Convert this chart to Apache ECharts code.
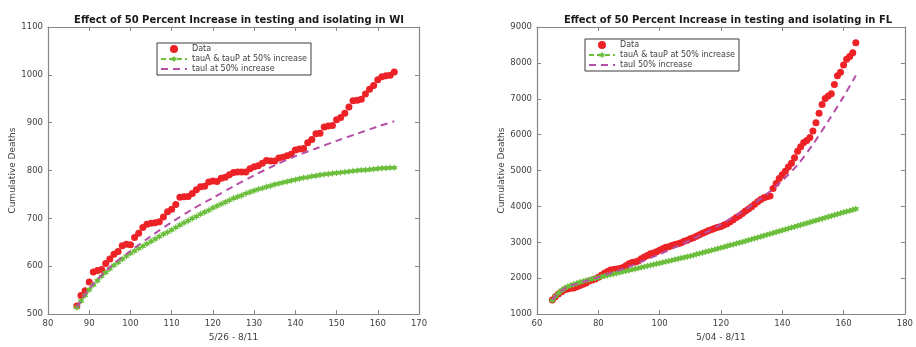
<!DOCTYPE html>
<html>
<head>
<meta charset="utf-8">
<script src="https://cdn.jsdelivr.net/npm/echarts@6/dist/echarts.min.js"></script>
<style>
  html, body { margin: 0; padding: 0; background: #ffffff; }
  #chart { width: 916px; height: 347px; }
</style>
</head>
<body>
<div id="chart"></div>
<script>
// ---- Wisconsin (days 87 .. 164, i.e. 5/26 - 8/11) ----
const wiFirstDay = 87;
const wiDeaths = [
  517, 539, 549, 567, 588, 591, 593, 606, 615, 625,
  631, 643, 646, 645, 660, 669, 681, 688, 690, 691,
  693, 703, 714, 719, 729, 744, 745, 746, 752, 760,
  766, 767, 776, 778, 777, 784, 786, 791, 796, 797,
  797, 797, 804, 808, 810, 815, 821, 820, 820, 826,
  828, 831, 834, 843, 845, 846, 858, 865, 877, 878,
  891, 893, 894, 906, 911, 920, 933, 946, 947, 949,
  960, 970, 978, 990, 996, 998, 999, 1006
];
const wiTauAP = [
  514, 527, 539, 551, 561, 570, 579, 587, 595, 602,
  608, 615, 621, 627, 632, 637, 642, 647, 652, 657,
  662, 667, 671, 676, 681, 686, 691, 695, 700, 704,
  709, 713, 717, 722, 726, 730, 734, 738, 742, 745,
  748, 752, 755, 758, 761, 763, 766, 768, 771, 773,
  775, 777, 779, 781, 783, 785, 786, 788, 789, 791,
  792, 793, 794, 795, 796, 797, 798, 799, 800, 801,
  801, 802, 803, 804, 805, 805, 806, 806
];
const wiTauIDays = [87, 90, 95, 100, 105, 110, 115, 120, 125, 130, 135, 140, 145, 150, 155, 160, 164];
const wiTauI     = [514, 553, 598, 632, 663, 692, 719, 743, 767, 790, 811, 830, 846, 862, 877, 892, 903];

// ---- Florida (days 65 .. 164, i.e. 5/04 - 8/11) ----
const flFirstDay = 65;
const flDeaths = [
  1390, 1480, 1560, 1620, 1680, 1700, 1720, 1730, 1760, 1800,
  1830, 1870, 1920, 1950, 1980, 2030, 2080, 2140, 2190, 2230,
  2240, 2260, 2270, 2300, 2350, 2400, 2440, 2450, 2480, 2540,
  2590, 2630, 2680, 2700, 2740, 2780, 2820, 2860, 2880, 2910,
  2940, 2960, 2990, 3030, 3060, 3100, 3130, 3170, 3210, 3250,
  3290, 3330, 3360, 3390, 3420, 3440, 3480, 3520, 3570, 3630,
  3690, 3740, 3800, 3870, 3930, 3990, 4060, 4130, 4190, 4240,
  4270, 4290, 4500, 4640, 4780, 4880, 4980, 5100, 5200, 5360,
  5540, 5660, 5780, 5840, 5920, 6100, 6330, 6600, 6840, 7010,
  7080, 7140, 7400, 7640, 7740, 7940, 8100, 8180, 8280, 8560
];
const flTauAP = [
  1380, 1490, 1580, 1660, 1720, 1770, 1800, 1830, 1860, 1890,
  1915, 1940, 1960, 1980, 2000, 2020, 2040, 2060, 2080, 2100,
  2120, 2140, 2160, 2180, 2200, 2220, 2240, 2260, 2280, 2300,
  2320, 2340, 2360, 2380, 2400, 2420, 2440, 2460, 2480, 2500,
  2520, 2540, 2560, 2580, 2600, 2620, 2640, 2665, 2690, 2710,
  2735, 2755, 2780, 2800, 2825, 2850, 2870, 2895, 2920, 2940,
  2965, 2990, 3010, 3035, 3060, 3085, 3110, 3135, 3160, 3185,
  3210, 3235, 3260, 3285, 3310, 3335, 3360, 3385, 3410, 3435,
  3460, 3485, 3510, 3535, 3560, 3585, 3610, 3635, 3660, 3685,
  3710, 3735, 3760, 3785, 3810, 3835, 3860, 3880, 3905, 3930
];
const flTauIDays = [65, 66, 67, 68, 70, 75, 80, 85, 90, 95, 100, 105, 110, 115, 120, 125, 130, 135, 140, 145, 150, 155, 160, 164];
const flTauI     = [1390, 1500, 1580, 1650, 1760, 1900, 2030, 2170, 2320, 2490, 2670, 2860, 3060, 3270, 3500, 3750, 4030, 4350, 4720, 5160, 5730, 6380, 7060, 7650];

// ---- axis settings ----
const wiX = { min: 80, max: 170, step: 10 };
const wiY = { min: 500, max: 1100, step: 100 };
const flX = { min: 60, max: 180, step: 20 };
const flY = { min: 1000, max: 9000, step: 1000 };

const FONT = 'DejaVu Sans';
const AXIS_GRAY = '#858585';
const TEXT_GRAY = '#404040';
const RED = '#ec2227';
const GREEN = '#6cbf3c';
const MAGENTA = '#b64fa8';
const ASTERISK = 'path://M0,-10 L2.6,-4.5 L8.7,-5 L5.2,0 L8.7,5 L2.6,4.5 L0,10 L-2.6,4.5 L-8.7,5 L-5.2,0 L-8.7,-5 L-2.6,-4.5 Z';

function pairs(firstDay, values) {
  return values.map((v, i) => [firstDay + i, v]);
}
function zipDays(days, values) {
  return days.map((d, i) => [d, values[i]]);
}
const plainNumber = v => String(v);

function mainX(grid, r, name) {
  return {
    type: 'value', gridIndex: grid, min: r.min, max: r.max, interval: r.step, position: 'bottom',
    axisLine: { show: true, onZero: false, lineStyle: { color: AXIS_GRAY, width: 1.2 } },
    axisTick: { show: true, inside: true, length: 4, lineStyle: { color: AXIS_GRAY } },
    axisLabel: { color: TEXT_GRAY, fontFamily: FONT, fontSize: 8.5, margin: 5, formatter: plainNumber },
    splitLine: { show: false },
    name: name, nameLocation: 'middle', nameGap: 17,
    nameTextStyle: { color: TEXT_GRAY, fontFamily: FONT, fontSize: 9 }
  };
}
function mirrorX(grid, r) {
  return {
    type: 'value', gridIndex: grid, min: r.min, max: r.max, interval: r.step, position: 'top',
    axisLine: { show: true, onZero: false, lineStyle: { color: AXIS_GRAY, width: 1.2 } },
    axisTick: { show: true, inside: true, length: 4, lineStyle: { color: AXIS_GRAY } },
    axisLabel: { show: false }, splitLine: { show: false }
  };
}
function mainY(grid, r) {
  return {
    type: 'value', gridIndex: grid, min: r.min, max: r.max, interval: r.step, position: 'left',
    axisLine: { show: true, onZero: false, lineStyle: { color: AXIS_GRAY, width: 1.2 } },
    axisTick: { show: true, inside: true, length: 4, lineStyle: { color: AXIS_GRAY } },
    axisLabel: { color: TEXT_GRAY, fontFamily: FONT, fontSize: 8.5, margin: 5, formatter: plainNumber },
    splitLine: { show: false },
    name: 'Cumulative Deaths', nameLocation: 'middle', nameGap: 30, nameRotate: 90,
    nameTextStyle: { color: TEXT_GRAY, fontFamily: FONT, fontSize: 9 }
  };
}
function mirrorY(grid, r) {
  return {
    type: 'value', gridIndex: grid, min: r.min, max: r.max, interval: r.step, position: 'right',
    axisLine: { show: true, onZero: false, lineStyle: { color: AXIS_GRAY, width: 1.2 } },
    axisTick: { show: true, inside: true, length: 4, lineStyle: { color: AXIS_GRAY } },
    axisLabel: { show: false }, splitLine: { show: false }
  };
}

function dataSeries(xi, yi, data) {
  return {
    name: 'Data', type: 'scatter', xAxisIndex: xi, yAxisIndex: yi, data: data,
    symbol: 'circle', symbolSize: 7, itemStyle: { color: RED, opacity: 1 }, z: 2
  };
}
function tauAPSeries(xi, yi, data) {
  return {
    name: 'tauA & tauP at 50% increase', type: 'line', xAxisIndex: xi, yAxisIndex: yi, data: data,
    symbol: ASTERISK, symbolSize: 7, showSymbol: true,
    lineStyle: { color: GREEN, width: 1.5, type: [5, 3] },
    itemStyle: { color: GREEN }, z: 3
  };
}
function tauISeries(name, xi, yi, data) {
  return {
    name: name, type: 'line', xAxisIndex: xi, yAxisIndex: yi, data: data,
    smooth: 0.3, showSymbol: false, symbol: 'none',
    lineStyle: { color: MAGENTA, width: 2, type: [7, 5] },
    itemStyle: { color: MAGENTA }, z: 4
  };
}

function legendAt(left, top, tauIName) {
  return {
    orient: 'vertical', left: left, top: top,
    data: [
      'Data',
      'tauA & tauP at 50% increase',
      { name: tauIName, itemStyle: { color: 'rgba(0,0,0,0)', borderWidth: 0 } }
    ],
    backgroundColor: '#ffffff', borderColor: '#3a3a3a', borderWidth: 1,
    padding: [2, 4, 2, 3], itemGap: 2, itemWidth: 26, itemHeight: 8,
    textStyle: { color: TEXT_GRAY, fontFamily: FONT, fontSize: 8 },
    selectedMode: false
  };
}

const titleStyle = { color: '#1a1a1a', fontFamily: FONT, fontSize: 10, fontWeight: 'bold' };

const option = {
  backgroundColor: '#ffffff',
  animation: false,
  title: [
    { text: 'Effect of 50 Percent Increase in testing and isolating in WI', left: 234, top: 10, textAlign: 'center', textStyle: titleStyle },
    { text: 'Effect of 50 Percent Increase in testing and isolating in FL', left: 723, top: 10, textAlign: 'center', textStyle: titleStyle }
  ],
  legend: [
    legendAt(157, 43, 'tauI at 50% increase'),
    legendAt(585, 39, 'tauI 50% increase')
  ],
  grid: [
    { left: 48, top: 27, width: 371, height: 294 },
    { left: 537, top: 27, width: 372, height: 294 }
  ],
  xAxis: [
    mainX(0, wiX, '5/26 - 8/11'),
    mainX(1, flX, '5/04 - 8/11'),
    mirrorX(0, wiX),
    mirrorX(1, flX)
  ],
  yAxis: [
    mainY(0, wiY),
    mainY(1, flY),
    mirrorY(0, wiY),
    mirrorY(1, flY)
  ],
  series: [
    dataSeries(0, 0, pairs(wiFirstDay, wiDeaths)),
    tauAPSeries(0, 0, pairs(wiFirstDay, wiTauAP)),
    tauISeries('tauI at 50% increase', 0, 0, zipDays(wiTauIDays, wiTauI)),
    dataSeries(1, 1, pairs(flFirstDay, flDeaths)),
    tauAPSeries(1, 1, pairs(flFirstDay, flTauAP)),
    tauISeries('tauI 50% increase', 1, 1, zipDays(flTauIDays, flTauI))
  ]
};

const chart = echarts.init(document.getElementById('chart'), null, { renderer: 'canvas' });
chart.setOption(option);
</script>
</body>
</html>
